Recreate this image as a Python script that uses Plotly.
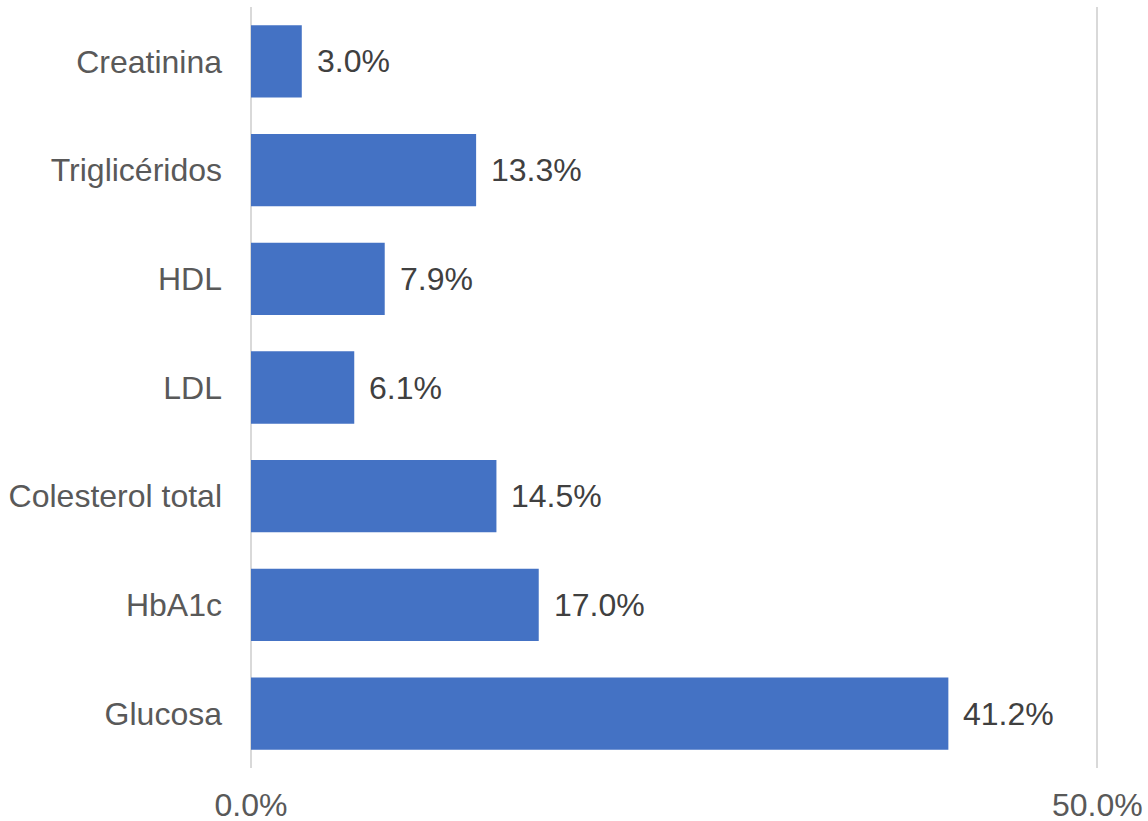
import plotly.graph_objects as go

# Share of results out of range per lab test (%)
tests = ["Glucosa", "HbA1c", "Colesterol total", "LDL", "HDL", "Triglicéridos", "Creatinina"]
values = [41.2, 17.0, 14.5, 6.1, 7.9, 13.3, 3.0]
x_ticks = [0, 50]
x_tick_labels = ["0.0%", "50.0%"]

FONT = "Liberation Sans, Arial, sans-serif"

fig = go.Figure(
    go.Bar(
        y=tests,
        x=values,
        orientation="h",
        marker=dict(color="#4472C4", line=dict(width=0)),
        hoverinfo="skip",
    )
)

# value labels placed just past the bar ends
for t, v in zip(tests, values):
    fig.add_annotation(
        x=v, y=t, text=f"{v:.1f}%", showarrow=False,
        xanchor="left", yanchor="middle", xshift=13,
        font=dict(family=FONT, size=32, color="#404040"),
    )

fig.update_layout(
    width=1148, height=821,
    margin=dict(l=251, r=49, t=7, b=53),
    paper_bgcolor="white", plot_bgcolor="white",
    bargap=0.335,
    showlegend=False,
    font=dict(family=FONT, size=32, color="#595959"),
)
fig.update_xaxes(
    range=[0, 50.1], tickvals=x_ticks, ticktext=x_tick_labels,
    showgrid=True, gridcolor="#D9D9D9", gridwidth=2,
    zeroline=True, zerolinecolor="#D9D9D9", zerolinewidth=2,
    showline=False, ticks="", ticklabelstandoff=15,
    tickfont=dict(family=FONT, size=32, color="#595959"),
    automargin=False, fixedrange=True,
)
fig.update_yaxes(
    categoryorder="array", categoryarray=tests,
    showgrid=False, zeroline=False, showline=False,
    ticks="", ticklabelstandoff=28,
    tickfont=dict(family=FONT, size=32, color="#595959"),
    automargin=False, fixedrange=True,
)

fig.write_html("out.html")
